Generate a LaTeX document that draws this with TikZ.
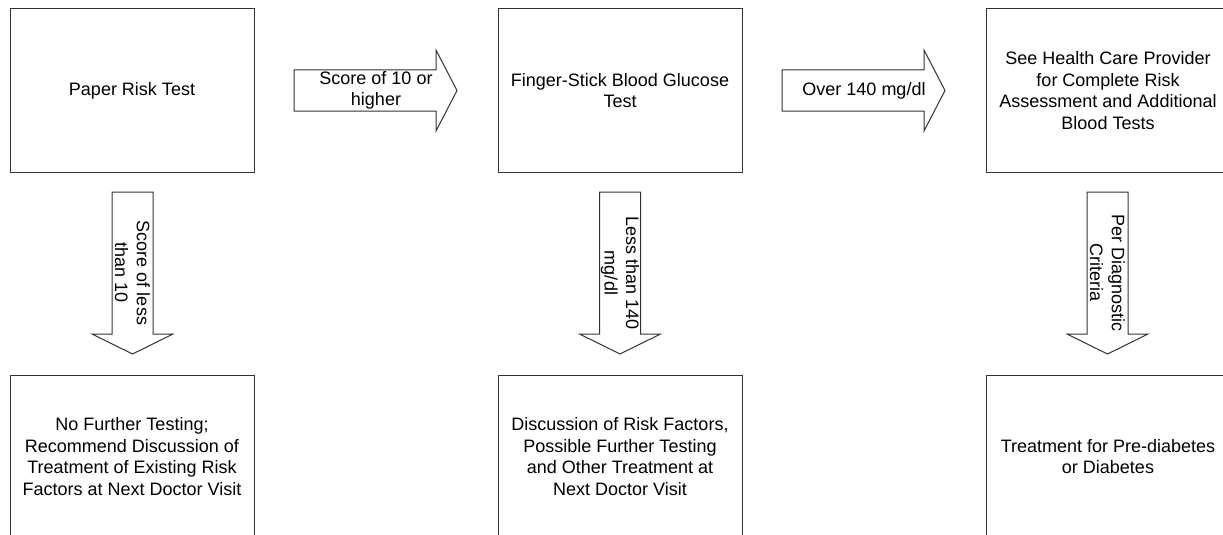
\documentclass[tikz,border=0pt]{standalone}
\usepackage{fontspec}
\setmainfont{Liberation Sans}
\begin{document}
\begin{tikzpicture}[x=1pt,y=-1pt,
  every node/.style={font=\fontsize{18}{21.7}\selectfont, align=center, text=black},
  stepbox/.style={draw=black!80, line width=1pt, minimum width=244pt, minimum height=163pt, inner sep=0pt},
  blockarrow/.style={draw=black!80, line width=1pt, fill=white, line join=miter},
  lbl/.style={inner sep=0pt}]
\useasboundingbox (0,0) rectangle (1223,535);
% boxes
\node[stepbox] (paper) at (132,90.5) {Paper Risk Test};
\node[stepbox] (finger) at (620,90.5) {Finger-Stick Blood Glucose\\Test};
\node[stepbox] (see) at (1108,90.5) {See Health Care Provider\\for Complete Risk\\Assessment and Additional\\Blood Tests};
\node[stepbox] (nofurther) at (132,456.5) {No Further Testing;\\Recommend Discussion of\\Treatment of Existing Risk\\Factors at Next Doctor Visit};
\node[stepbox] (discussion) at (620,456.5) {Discussion of Risk Factors,\\Possible Further Testing\\and Other Treatment at\\Next Doctor Visit};
\node[stepbox] (treatment) at (1108,456.5) {Treatment for Pre-diabetes\\or Diabetes};
% right block arrows
\draw[blockarrow] (294,70) -- (436,70) -- (436,50) -- (457,90.5) -- (436,131) -- (436,111) -- (294,111) -- cycle;
\node[lbl] (a1) at (376,90.5) {Score of 10 or\\higher};
\draw[blockarrow] (782,70) -- (924,70) -- (924,50) -- (945,90.5) -- (924,131) -- (924,111) -- (782,111) -- cycle;
\node[lbl] (a2) at (864,90.5) {Over 140 mg/dl};
% down block arrows
\foreach \cx/\nm/\txt in {132.5/d1/{Score of less\\than 10}, 620/d2/{Less than 140\\mg/dl}, 1107.5/d3/{Per Diagnostic\\Criteria}}{
  \draw[blockarrow] (\cx-20.5,192) -- (\cx+20.5,192) -- (\cx+20.5,334) -- (\cx+40.5,334) -- (\cx,354) -- (\cx-40.5,334) -- (\cx-20.5,334) -- cycle;
  \node[lbl, rotate=-90] (\nm) at (\cx,273) {\txt};
}
\end{tikzpicture}
\end{document}
